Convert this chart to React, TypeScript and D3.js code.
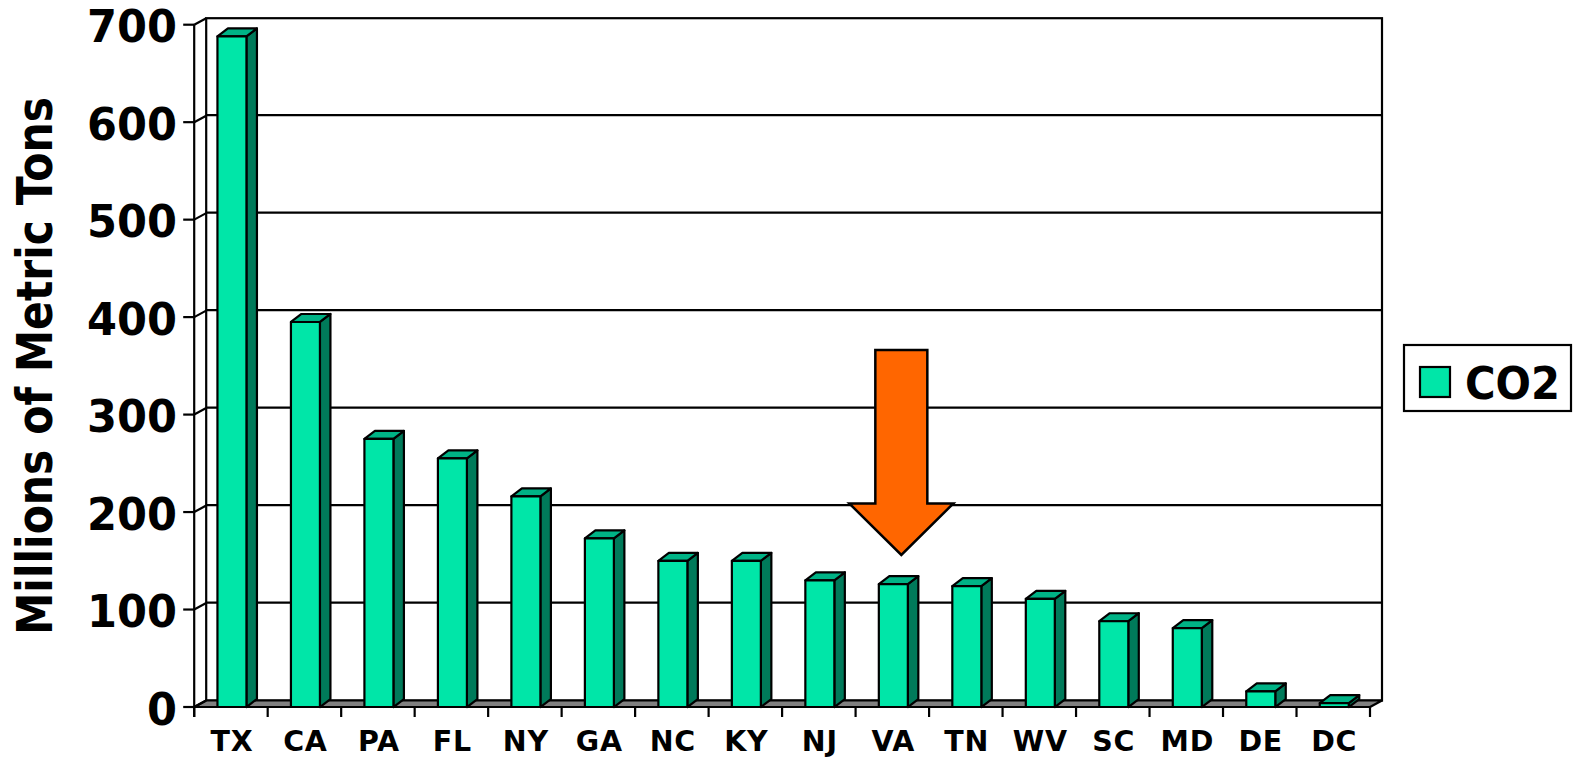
import React from "react";
import * as d3 from "d3";

const categories = ["TX","CA","PA","FL","NY","GA","NC","KY","NJ","VA","TN","WV","SC","MD","DE","DC"];
const co2Values = [688,395,275,255,216,173,150,150,130,126,124,111,88,81,16,4];
const yTicks = [0,100,200,300,400,500,600,700];
const seriesName = "CO2";
const yTitle = "Millions of Metric Tons";
const highlighted = "VA";

const FONT = "'DejaVu Sans', Verdana, sans-serif";
const FRONT = "#00E6A8", SIDE = "#007A5A", TOP = "#00B386";
const SW = 2.2;

export default function App() {
  const dx = 12, dy = -6.5;
  const x = d3.scaleBand<string>().domain(categories).range([194.2, 1370]).paddingInner(0).paddingOuter(0);
  const y = d3.scaleLinear().domain([0, 700]).range([707, 24.7]);
  const barW = 29, barDx = 10.5, barDy = -8;
  const bx = (c: string) => (x(c) as number) + x.bandwidth() / 2 - barW / 2 + 1;
  const x0 = x.range()[0], x1 = x.range()[1];
  const vaCx = bx(highlighted) + barW / 2 + 8;
  const arrow = d3.line()([
    [vaCx - 26, 350], [vaCx + 26, 350], [vaCx + 26, 503.5], [vaCx + 52, 503.5],
    [vaCx, 555], [vaCx - 52, 503.5], [vaCx - 26, 503.5],
  ]) as string;
  return (
    <svg width={1573} height={758} style={{ position: "absolute", left: 0, top: 0, display: "block", background: "#fff" }} fontFamily={FONT} fontWeight="bold">
      {/* back wall and gridlines */}
      <rect x={x0 + dx} y={y(700) + dy} width={x1 - x0} height={y(0) - y(700)} fill="#fff" stroke="#000" strokeWidth={SW} />
      {yTicks.slice(1, -1).map(t => (
        <line key={t} x1={x0 + dx} x2={x1 + dx} y1={y(t) + dy - 0.5} y2={y(t) + dy - 0.5} stroke="#000" strokeWidth={SW} />
      ))}
      {/* floor */}
      <polygon points={`${x0},${y(0)} ${x0 + dx},${y(0) + dy} ${x1 + dx},${y(0) + dy} ${x1},${y(0)}`} fill="#808080" stroke="#000" strokeWidth={SW} strokeLinejoin="round" />
      {/* side wall / axis */}
      <line x1={x0} x2={x0} y1={y(700)} y2={y(0) + 10} stroke="#000" strokeWidth={SW} />
      <line x1={x0} x2={x1} y1={y(0)} y2={y(0)} stroke="#000" strokeWidth={SW} />
      {yTicks.map(t => (
        <g key={t}>
          <line x1={x0 - 11} x2={x0} y1={y(t)} y2={y(t)} stroke="#000" strokeWidth={SW} />
          <line x1={x0} x2={x0 + dx} y1={y(t)} y2={y(t) + dy} stroke="#000" strokeWidth={SW} />
          <text x={177} y={y(t) + 17.5} textAnchor="end" fontSize={45} textLength={String(t).length * 30} lengthAdjust="spacingAndGlyphs" fill="#000">{t}</text>
        </g>
      ))}
      {categories.map((c, i) => (
        <g key={c}>
          <line x1={x(c) as number} x2={x(c) as number} y1={y(0)} y2={y(0) + 10} stroke="#000" strokeWidth={SW} />
          {i === categories.length - 1 && <line x1={x1} x2={x1} y1={y(0)} y2={y(0) + 10} stroke="#000" strokeWidth={SW} />}
          <text x={(x(c) as number) + x.bandwidth() / 2 + 1} y={751} textAnchor="middle" fontSize={28.5} letterSpacing={0.8} fill="#000">{c}</text>
        </g>
      ))}
      {/* bars */}
      {categories.map((c, i) => {
        const l = bx(c), r = l + barW, t = y(co2Values[i]), b = y(0);
        return (
          <g key={c} stroke="#000" strokeWidth={SW} strokeLinejoin="round">
            <polygon points={`${r},${t} ${r + barDx},${t + barDy} ${r + barDx},${b + barDy} ${r},${b}`} fill={SIDE} />
            <polygon points={`${l},${t} ${l + barDx},${t + barDy} ${r + barDx},${t + barDy} ${r},${t}`} fill={TOP} />
            <rect x={l} y={t} width={barW} height={b - t} fill={FRONT} />
          </g>
        );
      })}
      {/* y title */}
      <text transform="translate(52,366) rotate(-90)" textAnchor="middle" fontSize={49} textLength={538} lengthAdjust="spacingAndGlyphs" fill="#000">{yTitle}</text>
      {/* arrow */}
      <path d={arrow + "Z"} fill="#FF6600" stroke="#000" strokeWidth={2.5} strokeLinejoin="miter" />
      {/* legend */}
      <rect x={1404} y={345} width={167} height={66} fill="#fff" stroke="#000" strokeWidth={SW} />
      <rect x={1420} y={367} width={30} height={30} fill={FRONT} stroke="#000" strokeWidth={SW} />
      <text x={1465} y={398.5} fontSize={44} textLength={95} lengthAdjust="spacingAndGlyphs" fill="#000">{seriesName}</text>
    </svg>
  );
}
